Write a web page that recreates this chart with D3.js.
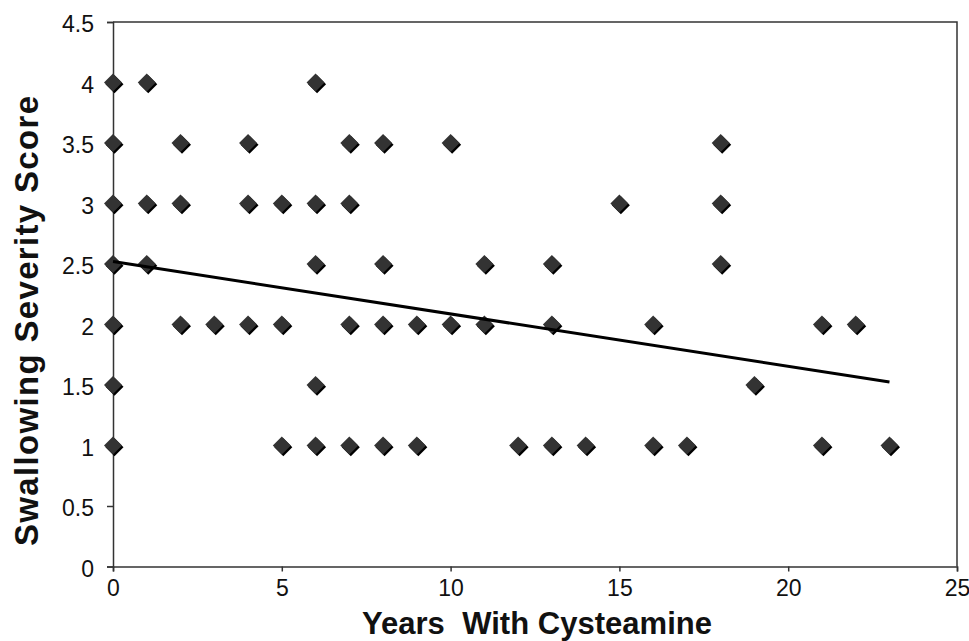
<!DOCTYPE html>
<html lang="en">
<head>
    <meta charset="UTF-8">
    <title>Swallowing Severity vs Years With Cysteamine</title>
    <script src="https://cdnjs.cloudflare.com/ajax/libs/d3/7.8.5/d3.min.js"></script>
    <style>
        body {
            margin: 0;
            background: #fff;
            font-family: Arial, "Liberation Sans", sans-serif;
        }
    </style>
</head>
<body>
    <svg id="chart" width="969" height="641"></svg>

    <script>
        // Data
        const years = [0, 0, 0, 0, 0, 0, 0,
            1, 1, 1,
            2, 2, 2,
            3,
            4, 4, 4,
            5, 5, 5,
            6, 6, 6, 6, 6,
            7, 7, 7, 7,
            8, 8, 8, 8,
            9, 9,
            10, 10,
            11, 11,
            12,
            13, 13, 13,
            14,
            15,
            16, 16,
            17,
            18, 18, 18,
            19,
            21, 21,
            22,
            23];
        const scores = [4, 3.5, 3, 2.5, 2, 1.5, 1,
            4, 3, 2.5,
            3.5, 3, 2,
            2,
            3.5, 3, 2,
            3, 2, 1,
            4, 3, 2.5, 1.5, 1,
            3.5, 3, 2, 1,
            3.5, 2.5, 2, 1,
            2, 1,
            3.5, 2,
            2.5, 2,
            1,
            2.5, 2, 1,
            1,
            3,
            2, 1,
            1,
            3.5, 3, 2.5,
            1.5,
            2, 1,
            2,
            1];
        // trend line end points
        const trendX = [0, 23];
        const trendY = [2.52, 1.525];

        const xTicks = [0, 5, 10, 15, 20, 25];
        const yTicks = [0, 0.5, 1, 1.5, 2, 2.5, 3, 3.5, 4, 4.5];

        const svg = d3.select("#chart");
        const plotLeft = 113, plotRight = 957, plotTop = 22, plotBottom = 566.5;

        const x = d3.scaleLinear().domain([0, 25]).range([plotLeft, plotRight]);
        const y = d3.scaleLinear().domain([0, 4.5]).range([plotBottom, plotTop]);

        // frame (top and right)
        svg.append("path")
            .attr("d", `M${plotLeft},${plotTop}H${plotRight}V${plotBottom}`)
            .attr("fill", "none")
            .attr("stroke", "#333")
            .attr("stroke-width", 1.5);

        // axes
        const xAxis = svg.append("g")
            .attr("transform", `translate(0,${plotBottom})`)
            .call(d3.axisBottom(x).tickValues(xTicks).tickSize(5).tickFormat(d3.format("d")));
        const yAxis = svg.append("g")
            .attr("transform", `translate(${plotLeft},0)`)
            .call(d3.axisLeft(y).tickValues(yTicks).tickSize(6).tickFormat(d => String(d)));

        [xAxis, yAxis].forEach(a => {
            a.select(".domain").attr("stroke", "#333").attr("stroke-width", 1.5);
            a.selectAll(".tick line").attr("stroke", "#333").attr("stroke-width", 1.5);
            a.selectAll(".tick text")
                .attr("fill", "#111")
                .style("font-family", "Arial, 'Liberation Sans', sans-serif")
                .style("font-size", "23px");
        });
        xAxis.selectAll(".tick text").attr("dy", "0.71em").attr("y", 13);
        yAxis.selectAll(".tick text").attr("x", -19).attr("dy", "0.42em");

        // points
        const pts = years.map((d, i) => ({ x: d, y: scores[i] }));
        const diamond = "M0,-9L9,0L0,9L-9,0Z";

        svg.append("g").selectAll("path")
            .data(pts)
            .enter()
            .append("path")
            .attr("d", diamond)
            .attr("transform", d => `translate(${x(d.x) + 1.5},${y(d.y) + 1.8})`)
            .attr("fill", "#000");

        svg.append("g").selectAll("path")
            .data(pts)
            .enter()
            .append("path")
            .attr("d", diamond)
            .attr("transform", d => `translate(${x(d.x)},${y(d.y)})`)
            .attr("fill", "#333");

        // trend line
        svg.append("line")
            .attr("x1", x(trendX[0]))
            .attr("y1", y(trendY[0]))
            .attr("x2", x(trendX[1]))
            .attr("y2", y(trendY[1]))
            .attr("stroke", "#000")
            .attr("stroke-width", 3);

        // titles
        svg.append("text")
            .attr("x", 537)
            .attr("y", 634)
            .attr("text-anchor", "middle")
            .attr("textLength", 350)
            .attr("lengthAdjust", "spacing")
            .style("font-size", "31px")
            .style("font-weight", "bold")
            .style("white-space", "pre")
            .attr("fill", "#111")
            .text("Years  With Cysteamine");

        svg.append("text")
            .attr("transform", "translate(38,321) rotate(-90)")
            .attr("text-anchor", "middle")
            .attr("textLength", 450)
            .attr("lengthAdjust", "spacing")
            .style("font-size", "33px")
            .style("font-weight", "bold")
            .attr("fill", "#111")
            .text("Swallowing Severity Score");
    </script>
</body>
</html>
